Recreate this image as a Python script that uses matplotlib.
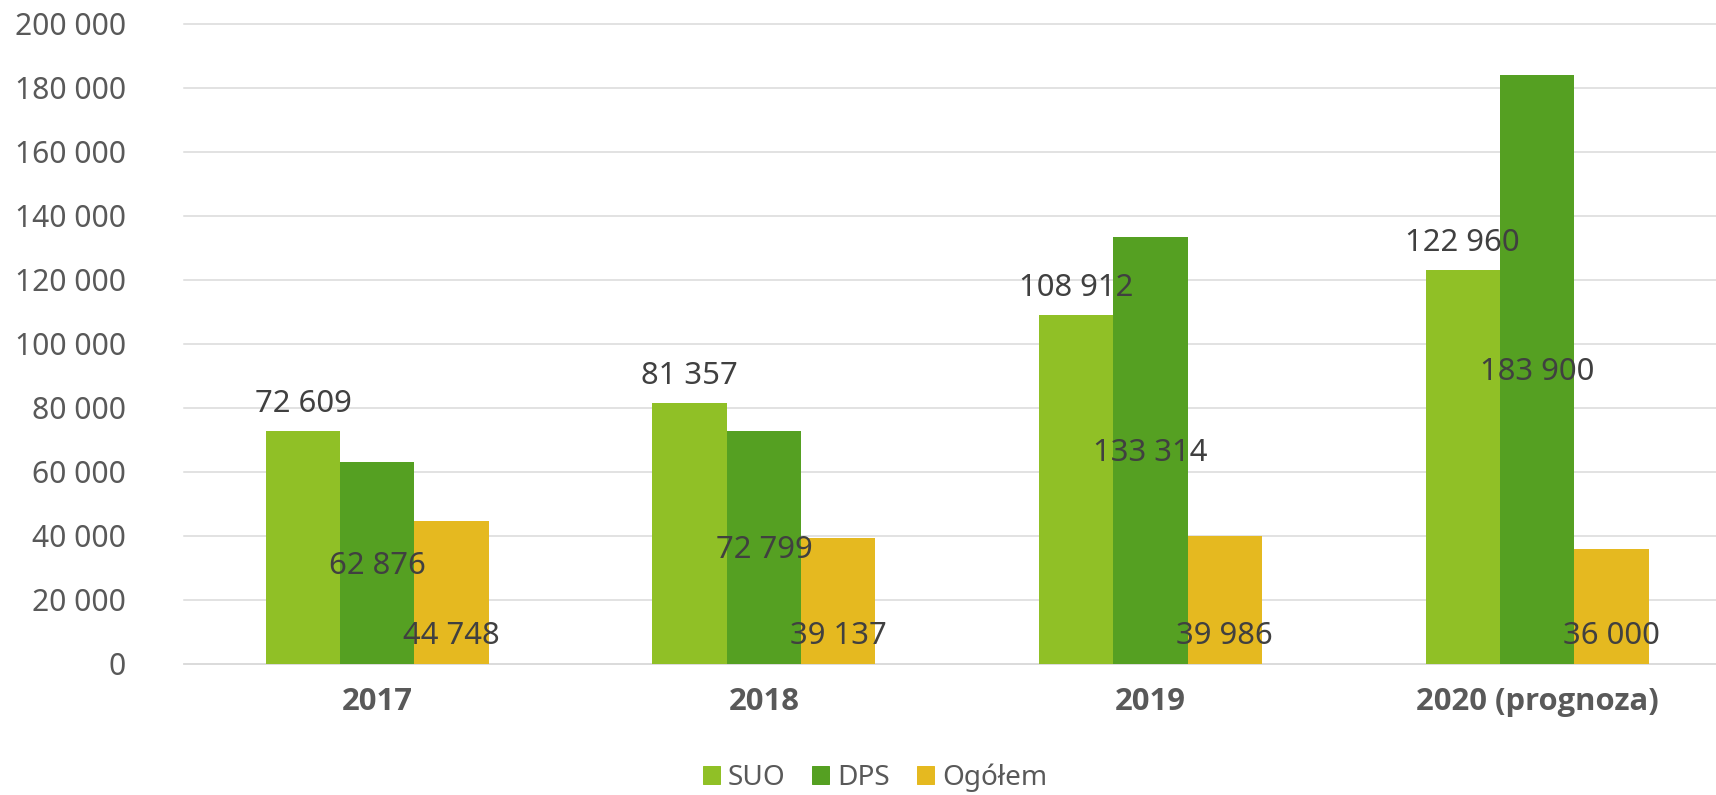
import matplotlib
matplotlib.use("Agg")
import matplotlib.pyplot as plt
from matplotlib.ticker import FuncFormatter
from matplotlib.patches import Patch
import numpy as np

# data
years = ["2017", "2018", "2019", "2020 (prognoza)"]
suo = [72609, 81357, 108912, 122960]
dps = [62876, 72799, 133314, 183900]
ogolem = [44748, 39137, 39986, 36000]

series_names = ["SUO", "DPS", "Ogółem"]
colors = ["#90C026", "#55A022", "#E5B920"]

plt.rcParams['font.family'] = ['Noto Sans', 'DejaVu Sans']


def fmt(v):
    return f"{v:,.0f}".replace(",", " ")


# dpi 72 -> 1 pt == 1 px
fig = plt.figure(figsize=(1716 / 72, 795 / 72), dpi=72)
W, H = 1716, 795
left, right = 184, 1716
y0, y200 = 663.7, 23.7
ax = fig.add_axes([left / W, 1 - y0 / H, (right - left) / W, (y0 - y200) / H])

group_px = 386.6
x = np.arange(len(years))
bw = 74.3 / group_px

ax.bar(x - bw, suo, bw, color=colors[0], zorder=3)
ax.bar(x, dps, bw, color=colors[1], zorder=3)
ax.bar(x + bw, ogolem, bw, color=colors[2], zorder=3)

ax.set_xlim(-0.5, -0.5 + (right - left) / group_px)
ax.set_ylim(0, 200000)
ax.set_yticks(np.arange(0, 200001, 20000))
ax.yaxis.set_major_formatter(FuncFormatter(lambda v, p: fmt(v)))
ax.yaxis.grid(True, color="#d9d9d9", linewidth=1.5, zorder=0)
for gl in ax.get_ygridlines():
    gl.set_clip_on(False)
ax.set_axisbelow(True)

for s in ["top", "right", "left"]:
    ax.spines[s].set_visible(False)
ax.spines["bottom"].set_color("#d9d9d9")
ax.spines["bottom"].set_linewidth(1.5)

ax.tick_params(axis="y", length=0, pad=58, labelsize=30, labelcolor="#595959")
ax.tick_params(axis="x", length=0, pad=23, labelsize=30, labelcolor="#595959")
ax.set_xticks(x)
ax.set_xticklabels(years)
for t in ax.get_xticklabels():
    t.set_fontfamily(["Open Sans", "DejaVu Sans"])
    t.set_fontweight("bold")
    t.set_fontsize(31)

lab_kw = dict(ha="center", va="center", fontsize=31, color="#404040",
              textcoords="offset points", zorder=5)
for i in range(len(years)):
    # SUO: above the bar
    ax.annotate(fmt(suo[i]), (x[i] - bw, suo[i]), xytext=(0, 27), **lab_kw)
    # DPS: middle of the bar
    ax.annotate(fmt(dps[i]), (x[i], dps[i] / 2), xytext=(0, -3), **lab_kw)
    # Ogolem: near the base
    ax.annotate(fmt(ogolem[i]), (x[i] + bw, 0), xytext=(0, 28), **lab_kw)

handles = [Patch(color=c) for c in colors]
leg = fig.legend(handles, series_names, loc="center", bbox_to_anchor=(875 / W, 1 - 778 / H),
                 ncol=3, frameon=False, fontsize=28, handlelength=0.6, handleheight=0.6,
                 handletextpad=0.3, columnspacing=0.95)
for t in leg.get_texts():
    t.set_color("#595959")

fig.savefig("out.png", dpi=72)
